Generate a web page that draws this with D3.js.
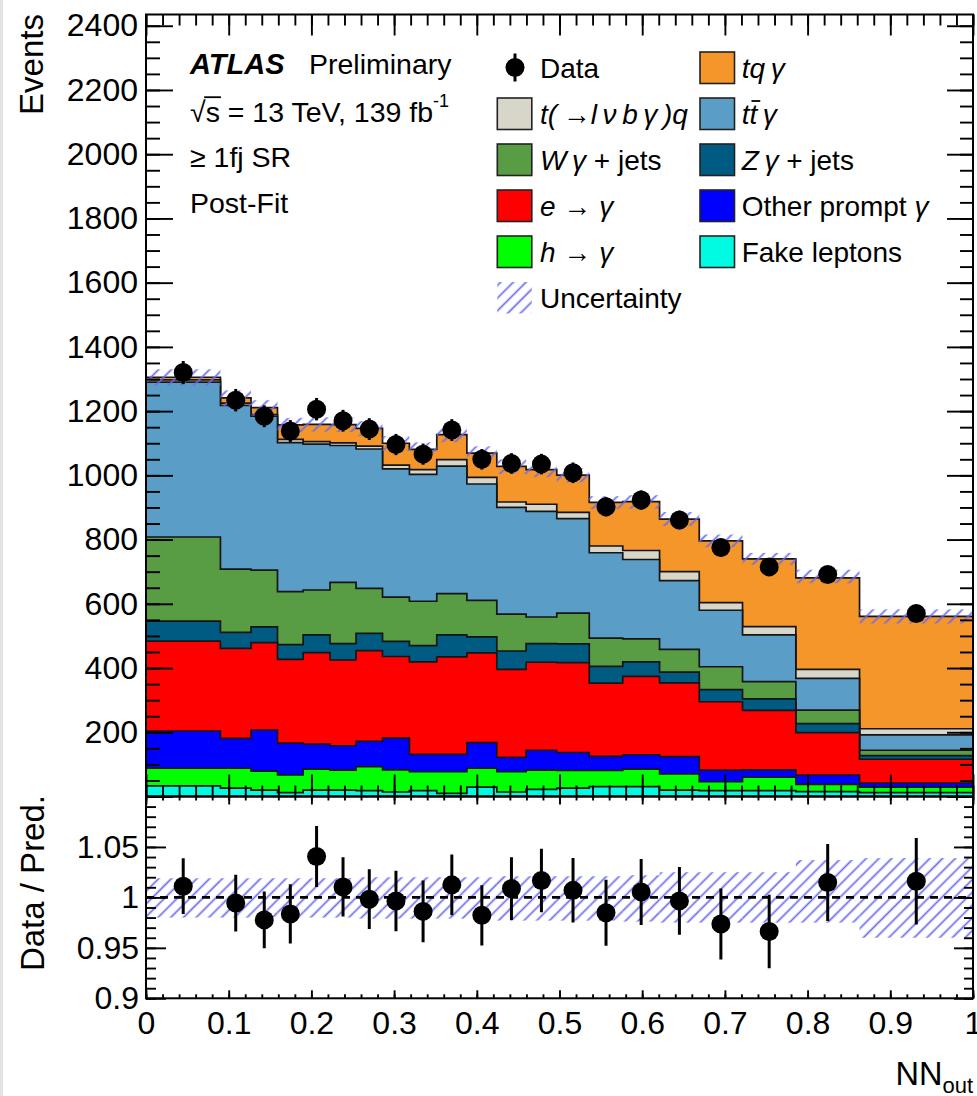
<!DOCTYPE html>
<html><head><meta charset="utf-8">
<script src="https://cdn.jsdelivr.net/npm/d3@7"></script>
<style>
body{margin:0;background:#fff;}
svg{display:block;}
text{font-family:"Liberation Sans",Arial,Helvetica,sans-serif;fill:#000;}
</style>
</head><body>
<svg id="c" width="977" height="1096"></svg>
<script>
// ---------------- DATA ----------------
const binEdges = [0, 0.090, 0.127, 0.159, 0.190, 0.2225, 0.254, 0.286, 0.3185, 0.3516, 0.388, 0.4242, 0.4596, 0.4967, 0.536, 0.5765, 0.621, 0.669, 0.7213, 0.7858, 0.8628, 1.0];
const dataCounts = [1320, 1234, 1184, 1138, 1206, 1170, 1144, 1096, 1066, 1141, 1050, 1037, 1035, 1008, 902, 923, 861, 775, 715, 691, 570];
const dataErr    = [36, 35, 34, 34, 35, 34, 34, 33, 33, 34, 32, 32, 32, 32, 30, 30, 29, 28, 27, 26, 24];
// stacked processes, bottom to top
const fakeLeptons = [33, 26, 20, 12, 20, 20, 18, 14, 18, 10, 29, 14, 22, 26, 31, 31, 20, 18, 18, 15, 12];
const hToGamma    = [55, 62, 59, 55, 65, 62, 75, 69, 59, 67, 59, 63, 60, 55, 50, 54, 50, 28, 42, 23, 17];
const otherPrompt = [116, 93, 128, 99, 78, 76, 79, 99, 54, 54, 80, 45, 62, 56, 44, 45, 54, 36, 23, 29, 13];
const eToGamma    = [280, 280, 272, 261, 285, 267, 282, 254, 288, 304, 279, 274, 274, 280, 228, 244, 230, 213, 185, 132, 74];
const zGammaJets  = [62, 50, 49, 46, 55, 51, 54, 47, 51, 68, 50, 57, 58, 58, 52, 45, 33, 38, 36, 28, 11];
const wGammaJets  = [262, 197, 177, 165, 140, 191, 140, 138, 138, 129, 114, 115, 83, 96, 88, 72, 71, 71, 54, 42, 17];
const ttGamma     = [482, 510, 479, 464, 454, 426, 434, 399, 395, 397, 362, 332, 329, 294, 266, 247, 214, 176, 145, 99, 48];
const tLvbGammaQ  = [7.5, 7, 5, 10, 8, 8, 9, 12, 15, 20, 21, 17, 22, 20, 21, 28, 28, 24, 26, 28, 19];
const tqGamma     = [8, 16, 22, 45, 54, 57, 55, 68, 63, 78, 75, 111, 108, 116, 136, 152, 164, 192, 211, 285, 350];
// relative post-fit uncertainty (up / down)
const uncUp   = [0.019,0.019,0.019,0.019,0.019,0.019,0.020,0.020,0.020,0.020,0.020,0.021,0.021,0.021,0.021,0.022,0.025,0.025,0.025,0.037,0.039];
const uncDown = [0.020,0.020,0.020,0.020,0.020,0.020,0.021,0.021,0.021,0.021,0.021,0.023,0.023,0.023,0.023,0.024,0.025,0.025,0.025,0.025,0.040];
// tick labels
const yTicksMain = [200, 400, 600, 800, 1000, 1200, 1400, 1600, 1800, 2000, 2200, 2400];
const xTickLabels = [0, 0.1, 0.2, 0.3, 0.4, 0.5, 0.6, 0.7, 0.8, 0.9, 1];
const ratioTickLabels = [0.9, 0.95, 1, 1.05];

// ---------------- LAYOUT ----------------
const L = 146, R = 973, T = 14.5, MB = 796.5, RB = 998.3;
const svg = d3.select('#c');
svg.append('rect').attr('x',0).attr('y',0).attr('width',3).attr('height',1096).attr('fill','#e3e3e3');

const x = d3.scaleLinear().domain([0,1]).range([L,R]);
const y = d3.scaleLinear().domain([0,2435]).range([MB,T]);
const yr = d3.scaleLinear().domain([0.9,1.1]).range([RB,MB]);

const defs = svg.append('defs');
defs.append('clipPath').attr('id','mainclip').append('rect')
  .attr('x',L).attr('y',T).attr('width',R-L).attr('height',MB-T);
defs.append('clipPath').attr('id','ratioclip').append('rect')
  .attr('x',L).attr('y',MB).attr('width',R-L).attr('height',RB-MB);
const pat = defs.append('pattern').attr('id','hatch').attr('patternUnits','userSpaceOnUse')
  .attr('width',9).attr('height',9).attr('patternTransform','rotate(45)');
pat.append('line').attr('x1',4.5).attr('y1',-1).attr('x2',4.5).attr('y2',10)
  .attr('stroke','#6a6af0').attr('stroke-width',1.7);

const processes = [
  {key:'fake',  values:fakeLeptons, color:'#00fbe2'},
  {key:'hgam',  values:hToGamma,    color:'#00ff00'},
  {key:'other', values:otherPrompt, color:'#0000ff'},
  {key:'egam',  values:eToGamma,    color:'#ff0000'},
  {key:'zgam',  values:zGammaJets,  color:'#005b83'},
  {key:'wgam',  values:wGammaJets,  color:'#589c44'},
  {key:'ttgam', values:ttGamma,     color:'#5a9ec8'},
  {key:'tlvbq', values:tLvbGammaQ,  color:'#d8d5c9'},
  {key:'tqgam', values:tqGamma,     color:'#f5962a'}
];
const nb = dataCounts.length;
const bins = d3.range(nb);
const cum = [];
processes.forEach((p,k)=>{
  cum.push(bins.map(i => (k ? cum[k-1][i] : 0) + p.values[i]));
});
const total = cum[cum.length-1];

const stepArea = d3.area().x(d=>x(d[0])).y0(y(0)).y1(d=>y(d[1]));
function stepPts(vals){
  const pts=[];
  bins.forEach(i=>{ pts.push([binEdges[i],vals[i]]); pts.push([binEdges[i+1],vals[i]]); });
  return pts;
}

// ---------------- MAIN PANEL ----------------
const gMain = svg.append('g').attr('clip-path','url(#mainclip)');
for (let k = processes.length-1; k >= 0; k--) {
  gMain.append('path').attr('d', stepArea(stepPts(cum[k])))
    .attr('fill', processes[k].color).attr('stroke','#151515').attr('stroke-width',1.7)
    .attr('stroke-linejoin','miter');
}
// uncertainty band
gMain.selectAll('rect.unc').data(bins).join('rect')
  .attr('x', i=>x(binEdges[i])).attr('width', i=>x(binEdges[i+1])-x(binEdges[i]))
  .attr('y', i=>y(total[i]*(1+uncUp[i])))
  .attr('height', i=>y(total[i]*(1-uncDown[i]))-y(total[i]*(1+uncUp[i])))
  .attr('fill','url(#hatch)');
// data
const cx = i => x((binEdges[i]+binEdges[i+1])/2);
gMain.selectAll('line.err').data(bins).join('line')
  .attr('x1',cx).attr('x2',cx)
  .attr('y1',i=>y(dataCounts[i]-dataErr[i])).attr('y2',i=>y(dataCounts[i]+dataErr[i]))
  .attr('stroke','#000').attr('stroke-width',3);
gMain.selectAll('circle.d').data(bins).join('circle')
  .attr('cx',cx).attr('cy',i=>y(dataCounts[i])).attr('r',9.5).attr('fill','#000');

// ---------------- RATIO PANEL ----------------
const gRat = svg.append('g').attr('clip-path','url(#ratioclip)');
gRat.selectAll('rect.unc').data(bins).join('rect')
  .attr('x', i=>x(binEdges[i])).attr('width', i=>x(binEdges[i+1])-x(binEdges[i]))
  .attr('y', i=>yr(1+uncUp[i])).attr('height', i=>yr(1-uncDown[i])-yr(1+uncUp[i]))
  .attr('fill','url(#hatch)');
gRat.append('line').attr('x1',L).attr('x2',R).attr('y1',yr(1)).attr('y2',yr(1))
  .attr('stroke','#000').attr('stroke-width',2.6).attr('stroke-dasharray','8,6');
const ratio = bins.map(i=>dataCounts[i]/total[i]);
const ratioErr = bins.map(i=>dataErr[i]/total[i]);
gRat.selectAll('line.err').data(bins).join('line')
  .attr('x1',cx).attr('x2',cx)
  .attr('y1',i=>yr(ratio[i]-ratioErr[i])).attr('y2',i=>yr(ratio[i]+ratioErr[i]))
  .attr('stroke','#000').attr('stroke-width',3);
gRat.selectAll('circle.d').data(bins).join('circle')
  .attr('cx',cx).attr('cy',i=>yr(ratio[i])).attr('r',9.5).attr('fill','#000');

// ---------------- AXES ----------------
function tickAxis(axisFn, scale, values, size, tx, ty){
  const g = svg.append('g').attr('transform',`translate(${tx},${ty})`)
    .call(axisFn(scale).tickValues(values).tickSize(size).tickFormat(''));
  g.select('.domain').remove();
  g.selectAll('line').attr('stroke','#000').attr('stroke-width',1.9);
  return g;
}
const yMinor = d3.range(0, 2401, 50);
const xMinor = d3.range(0, 1.0001, 0.02);
const xMajor = xTickLabels;
const rMinor = d3.range(0.9, 1.1001, 0.01);
const rMajor = [0.9, 0.95, 1, 1.05, 1.1];
// main panel
tickAxis(d3.axisRight, y, yMinor, 14, L, 0);
tickAxis(d3.axisRight, y, [0].concat(yTicksMain), 27, L, 0);
tickAxis(d3.axisLeft, y, yMinor, 13, R, 0);
tickAxis(d3.axisLeft, y, [0].concat(yTicksMain), 26, R, 0);
tickAxis(d3.axisBottom, x, xMinor, 11, 0, T);
tickAxis(d3.axisBottom, x, xMajor, 21, 0, T);
tickAxis(d3.axisTop, x, xMinor, 11, 0, MB);
tickAxis(d3.axisTop, x, xMajor, 22, 0, MB);
// ratio panel
tickAxis(d3.axisRight, yr, rMinor, 10, L, 0);
tickAxis(d3.axisRight, yr, rMajor, 20, L, 0);
tickAxis(d3.axisLeft, yr, rMinor, 9, R, 0);
tickAxis(d3.axisLeft, yr, rMajor, 19, R, 0);
tickAxis(d3.axisBottom, x, xMinor, 4, 0, MB);
tickAxis(d3.axisBottom, x, xMajor, 8, 0, MB);
tickAxis(d3.axisTop, x, xMinor, 4, 0, RB);
tickAxis(d3.axisTop, x, xMajor, 8, 0, RB);

// frames
svg.append('rect').attr('x',L).attr('y',T).attr('width',R-L).attr('height',MB-T)
  .attr('fill','none').attr('stroke','#000').attr('stroke-width',2);
svg.append('rect').attr('x',L).attr('y',MB).attr('width',R-L).attr('height',RB-MB)
  .attr('fill','none').attr('stroke','#000').attr('stroke-width',2);

// labels
function labelAxis(axisFn, scale, values, fmt, tx, ty, pad){
  const g = svg.append('g').attr('transform',`translate(${tx},${ty})`)
    .call(axisFn(scale).tickValues(values).tickSize(0).tickPadding(pad).tickFormat(fmt));
  g.select('.domain').remove();
  g.selectAll('text').style('font-family','"Liberation Sans",Arial,sans-serif')
    .style('font-size','32px').attr('fill','#000');
  return g;
}
labelAxis(d3.axisLeft, y, yTicksMain, d=>String(d), L, 0, 8);
labelAxis(d3.axisLeft, yr, ratioTickLabels, d=>String(d), L, 0, 7);
labelAxis(d3.axisBottom, x, xTickLabels, d=>String(d), 0, RB, 13);

// axis titles
svg.append('text').attr('transform','translate(43,14) rotate(-90)')
  .attr('text-anchor','end').style('font-size','33px').text('Events');
svg.append('text').attr('transform','translate(44,795) rotate(-90)')
  .attr('text-anchor','end').style('font-size','33px').text('Data / Pred.');
const nnt = svg.append('text').attr('x',973).attr('y',1085).attr('text-anchor','end').style('font-size','32.5px');
nnt.append('tspan').text('NN');
nnt.append('tspan').attr('dy',8).style('font-size','22px').text('out');

// ATLAS label
svg.append('text').attr('x',190).attr('y',74).style('font-size','29px')
  .style('font-weight','bold').style('font-style','italic').text('ATLAS');
svg.append('text').attr('x',309).attr('y',74).style('font-size','28.5px').text('Preliminary');
const sq = svg.append('text').attr('x',190).attr('y',121.7).style('font-size','28.5px');
sq.append('tspan').text('\u221As = 13 TeV, 139 fb');
sq.append('tspan').attr('dy',-15).style('font-size','18px').text('-1');
svg.append('text').attr('x',190).attr('y',167).style('font-size','28.5px').text('\u2265 1fj SR');
svg.append('text').attr('x',190).attr('y',213).style('font-size','28.5px').text('Post-Fit');
// overline of sqrt
{
  const node = sq.node();
  const e0 = node.getExtentOfChar(0), e1 = node.getExtentOfChar(1);
  svg.append('line').attr('x1', e0.x + e0.width - 1.5).attr('x2', e1.x + e1.width + 1)
    .attr('y1', e0.y + 1.5).attr('y2', e0.y + 1.5).attr('stroke','#000').attr('stroke-width',1.8);
}

// ---------------- LEGEND ----------------
const legendRows = [
  {col:0,row:0,type:'data', parts:[{t:'Data'}]},
  {col:1,row:0,type:'box', color:'#f5962a', parts:[{t:'tq\u2009\u03B3',i:1}]},
  {col:0,row:1,type:'box', color:'#d8d5c9', parts:[{t:'t(\u2009\u2192l\u2009\u03BD\u2009b\u2009\u03B3\u2009)q',i:1}]},
  {col:1,row:1,type:'box', color:'#5a9ec8', parts:[{t:'t',i:1},{t:'t',i:1,over:1},{t:'\u2009\u03B3',i:1}]},
  {col:0,row:2,type:'box', color:'#589c44', parts:[{t:'W\u2009\u03B3',i:1},{t:' + jets'}]},
  {col:1,row:2,type:'box', color:'#005b83', parts:[{t:'Z\u2009\u03B3',i:1},{t:' + jets'}]},
  {col:0,row:3,type:'box', color:'#ff0000', parts:[{t:'e',i:1},{t:' \u2192 '},{t:'\u03B3',i:1}]},
  {col:1,row:3,type:'box', color:'#0000ff', parts:[{t:'Other prompt '},{t:'\u03B3',i:1}]},
  {col:0,row:4,type:'box', color:'#00ff00', parts:[{t:'h',i:1},{t:' \u2192 '},{t:'\u03B3',i:1}]},
  {col:1,row:4,type:'box', color:'#00fbe2', parts:[{t:'Fake leptons'}]},
  {col:0,row:5,type:'hatch', parts:[{t:'Uncertainty'}]}
];
const colBox = [497.3, 700], colText = [540, 741.7];
legendRows.forEach(r=>{
  const cy = 67.5 + 46*r.row;
  if (r.type==='data'){
    svg.append('line').attr('x1',515).attr('x2',515).attr('y1',cy-14).attr('y2',cy+14)
      .attr('stroke','#000').attr('stroke-width',3);
    svg.append('circle').attr('cx',515).attr('cy',cy).attr('r',9.5).attr('fill','#000');
  } else if (r.type==='box'){
    svg.append('rect').attr('x',colBox[r.col]).attr('y',cy-15.5).attr('width',34.5).attr('height',31.5)
      .attr('fill',r.color).attr('stroke','#222').attr('stroke-width',1.6);
  } else {
    svg.append('rect').attr('x',colBox[r.col]).attr('y',cy-15.5).attr('width',34.5).attr('height',31.5)
      .attr('fill','url(#hatch)');
  }
  const t = svg.append('text').attr('x',colText[r.col]).attr('y',cy+10.5).style('font-size','28px');
  let idx = 0; const overs = [];
  r.parts.forEach(p=>{
    t.append('tspan').style('font-style', p.i ? 'italic' : 'normal').text(p.t);
    if (p.over) overs.push(idx);
    idx += p.t.length;
  });
  overs.forEach(ci=>{
    const e = t.node().getExtentOfChar(ci);
    svg.append('line').attr('x1',e.x+2).attr('x2',e.x+e.width+3)
      .attr('y1',e.y+2).attr('y2',e.y+2).attr('stroke','#000').attr('stroke-width',1.8);
  });
});
</script>
</body></html>
